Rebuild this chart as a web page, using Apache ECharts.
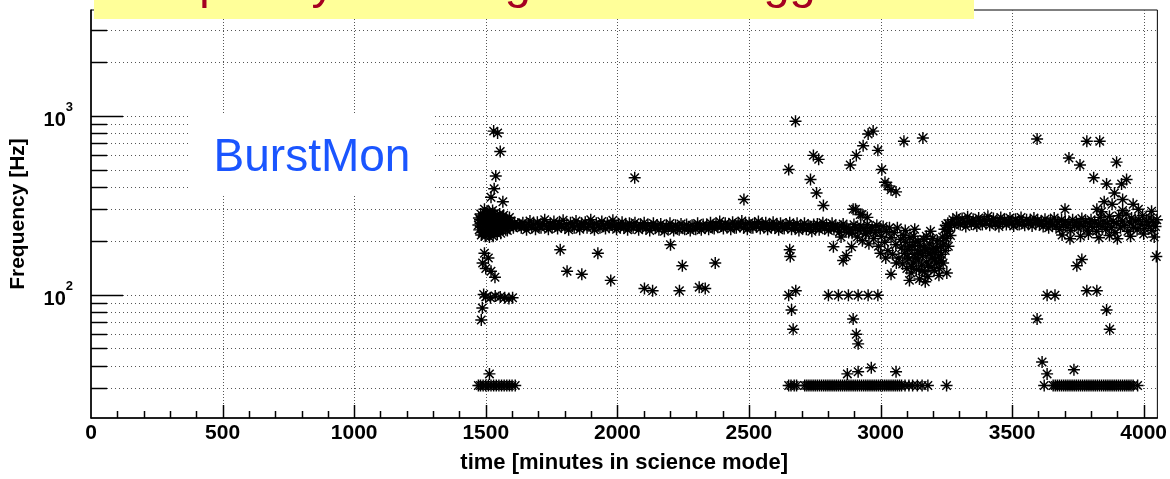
<!DOCTYPE html>
<html><head><meta charset="utf-8">
<script src="https://cdn.jsdelivr.net/npm/echarts@6/dist/echarts.min.js"></script>
<style>html,body{margin:0;padding:0;background:#fff}#c{width:1170px;height:479px}</style>
</head><body><div id="c"></div>
<script>
// ---------- tick definitions ----------
const yMajorTicks = [100, 1000];
const yMinorTicks = [30, 40, 50, 60, 70, 80, 90, 200, 300, 400, 500, 600, 700, 800, 900, 2000, 3000];
const xMajorTicks = [500, 1000, 1500, 2000, 2500, 3000, 3500, 4000];
const xMinorTicks = [100, 200, 300, 400, 600, 700, 800, 900, 1100, 1200, 1300, 1400, 1600, 1700, 1800, 1900,
  2100, 2200, 2300, 2400, 2600, 2700, 2800, 2900, 3100, 3200, 3300, 3400, 3600, 3700, 3800, 3900];

// ---------- data: [time (minutes), frequency (Hz)] ----------
const band1500 = [[1472,245],[1475,230],[1478,262],[1480,250],[1483,215],[1486,238],[1488,275],[1490,255],[1492,228],[1495,300],
  [1497,240],[1499,265],[1502,222],[1504,248],[1507,285],[1509,236],[1511,258],[1514,210],[1516,270],[1519,244],[1521,232],
  [1524,262],[1526,295],[1529,240],[1531,226],[1534,252],[1536,270],[1539,238],[1541,246],[1544,218],[1547,258],[1549,242],
  [1552,264],[1555,234],[1558,250],[1561,240],[1564,272],[1567,236],[1570,255],[1573,245],[1576,230],[1580,262],[1584,244],
  [1588,252],[1592,238],[1596,258],[1600,246],[1605,236],[1610,250],[1616,242],[1622,248],
  [1474,268],[1481,282],[1487,222],[1493,262],[1498,212],[1503,276],[1508,228],[1513,290],[1518,222],[1523,280],[1528,212],
  [1533,284],[1538,226],[1543,276],[1548,232],[1553,282],[1557,220],[1562,258],[1568,278],[1574,260],[1582,228],[1590,270]];

const bandMain = [[1628,244],[1635,236],[1641,252],[1648,240],[1655,230],[1662,248],[1668,258],[1675,238],[1682,246],[1689,232],
  [1696,254],[1703,242],[1710,236],[1717,250],[1724,262],[1731,240],[1738,232],[1745,248],[1752,238],[1759,256],[1766,244],
  [1773,234],[1780,250],[1787,240],[1794,260],[1801,236],[1808,246],[1815,230],[1822,252],[1829,242],[1836,236],[1843,258],
  [1850,244],[1857,232],[1864,250],[1871,240],[1878,254],[1885,236],[1892,246],[1899,262],[1906,238],[1913,230],[1920,250],
  [1927,242],[1934,236],[1941,256],[1948,244],[1955,234],[1962,250],[1969,238],[1976,246],[1983,260],[1990,240],[1997,232],
  [2004,248],[2011,238],[2018,254],[2025,236],[2032,244],[2039,230],[2046,250],[2053,240],[2060,236],[2067,252],[2074,242],
  [2081,230],[2088,246],[2095,238],[2102,252],[2109,234],[2116,244],[2123,228],[2130,240],[2137,250],[2144,236],[2151,244],
  [2158,230],[2165,248],[2172,238],[2179,226],[2186,242],[2193,234],[2200,250],[2207,238],[2214,228],[2221,244],[2228,236],
  [2235,230],[2242,248],[2249,238],[2256,232],[2263,246],[2270,236],[2277,228],[2284,244],[2291,240],[2298,232],[2305,250],
  [2312,238],[2319,230],[2326,246],[2333,236],[2340,244],[2347,232],[2354,252],[2361,240],[2368,234],[2375,248],[2382,238],
  [2389,256],[2396,242],[2403,234],[2410,250],[2417,240],[2424,246],[2431,232],[2438,254],[2445,242],[2452,236],[2459,250],
  [2466,240],[2473,258],[2480,236],[2487,246],[2494,232],[2501,252],[2508,242],[2515,236],[2522,250],[2529,240],[2536,256],
  [2543,234],[2550,246],[2557,240],[2564,252],[2571,232],[2578,244],[2585,238],[2592,254],[2599,236],[2606,246],[2613,230],
  [2620,250],[2627,240],[2634,234],[2641,248],[2648,238],[2655,252],[2662,232],[2669,244],[2676,236],[2683,250],[2690,228],
  [2697,242],[2704,236],[2711,250],[2718,232],[2725,244],[2732,238],[2739,226],[2746,246],[2753,236],[2760,248],[2767,230],
  [2774,240],[2781,252],[2788,234],[2795,244],[2802,228],[2809,240],[2816,250],[2823,232],[2830,242],[2837,236],[2844,224],
  [2851,240],[2858,248],[2865,230],[2872,238],[2879,222]];

const dipRegion = [[2884,232],[2892,220],[2899,246],[2906,238],[2912,210],[2918,228],[2925,242],[2931,200],[2937,234],[2943,218],
  [2950,246],[2956,192],[2962,228],[2968,238],[2974,206],[2980,222],[2986,244],[2992,186],[2998,230],[3004,212],[3010,240],
  [3016,196],[3022,226],[3028,176],[3034,236],[3040,208],[3046,168],[3052,222],[3058,190],[3064,236],[3070,160],[3076,204],
  [3080,182],[3084,148],[3088,214],[3092,170],[3096,196],[3100,140],[3104,178],[3108,158],[3112,208],[3116,132],[3120,186],
  [3124,150],[3128,168],[3132,196],[3136,138],[3140,176],[3144,156],[3148,122],[3152,188],[3156,146],[3160,166],[3164,204],
  [3168,134],[3172,178],[3176,152],[3180,126],[3184,170],[3188,192],[3192,142],[3196,160],[3200,182],[3204,136],[3208,172],
  [3212,150],[3216,200],[3220,162],[3224,140],[3228,186],[3232,168],[3236,210],[3238,150],[3240,192],[3243,232],[3246,176],
  [3248,244],[3250,206],[3252,132],[3254,226],[3256,250],[3258,186],[3262,238],[3266,214],
  [3094,228],[3102,162],[3110,186],[3118,144],[3126,212],[3134,160],[3142,198],[3150,170],[3158,136],[3166,182],[3174,212],
  [3182,146],[3190,170],[3198,206],[3206,156],[3214,180],[3222,128],[3230,154],[3110,120],[3170,118],[3130,232],[3190,226],
  [3060,150],[3040,130],[3020,160],[3000,170],[2905,300],[2930,280],[2950,270],[2890,185],[2870,165],[2850,210]];

const bandLate = [[3268,250],[3275,262],[3282,244],[3289,270],[3296,254],[3303,246],[3310,266],[3317,252],[3324,240],[3331,272],
  [3338,256],[3345,248],[3352,264],[3359,250],[3366,242],[3373,268],[3380,256],[3387,246],[3394,262],[3401,250],[3408,274],
  [3415,244],[3422,258],[3429,266],[3436,248],[3443,256],[3450,240],[3457,270],[3464,252],[3471,262],[3478,246],[3485,258],
  [3492,268],[3499,250],[3506,242],[3513,264],[3520,254],[3527,246],[3534,270],[3541,256],[3548,244],[3555,262],[3562,250],
  [3569,258],[3576,242],[3583,268],[3590,252],[3597,260],[3604,246],[3611,256],[3618,240],[3625,264],[3632,250],[3639,236],
  [3646,258],[3653,246],[3660,268],[3667,240],[3674,254],[3681,232],[3688,262],[3695,246],[3702,256],[3709,238],[3716,252],
  [3723,228],[3730,262],[3737,244],[3744,254],[3751,236],[3758,248],[3765,266],[3772,240],[3779,256],[3786,230],[3793,250],
  [3800,262],[3807,238],[3814,254],[3821,226],[3828,248],[3835,270],[3842,240],[3849,258],[3856,232],[3863,250],[3870,274],
  [3877,238],[3884,256],[3891,222],[3898,250],[3905,276],[3912,236],[3919,258],[3926,244],[3933,282],[3940,226],[3947,254],
  [3954,268],[3961,238],[3968,258],[3975,230],[3982,262],[3989,246],[3996,276],[4003,234],[4010,256],[4017,244],[4024,268],
  [4031,228],[4038,252],[4045,240],[4050,262],
  [3690,215],[3720,205],[3760,212],[3790,218],[3830,208],[3870,214],[3900,205],[3950,212],[4000,218],[4040,210],
  [3840,290],[3920,295],[3980,300],[4030,292]];

const highPoints = [[1530,820],[1545,800],[1555,630],[1538,460],[1532,390],[1520,350],[1565,330],
  [2066,450],[2481,340],[2677,930],[2651,500],[2745,600],[2765,570],[2734,440],[2757,370],[2783,315],
  [2885,530],[2908,600],[2934,680],[2953,790],[2972,820],[2990,640],[3017,425],[3040,385],[3059,375],[3089,720],
  [3161,750],[3005,500],[3028,405],[2896,300],[2923,280],
  [3595,740],[3716,580],[3758,530],[3784,720],[3833,720],[3810,450],[3859,415],[3897,550],[3916,415],[3935,440],
  [3889,370],[3822,300],[3701,300],[3850,330],[3880,320],[3920,340],[3960,320]];

const lowPoints = [[1495,170],[1488,150],[1500,140],[1510,160],[1520,135],[1535,125],[1500,97],[1518,96],[1536,98],
  [1555,97],[1572,96],[1588,95],[1602,96],[1483,72],[1487,84],[1492,100],
  [1809,135],[1865,130],[1926,170],[1975,120],[2103,108],[2134,105],[2202,190],[2236,105],[2247,145],[2311,110],
  [2334,108],[2372,150],[1783,178],
  [2655,178],[2657,163],[2651,99],[2662,82],[2668,64],[2678,105],[2821,185],[2858,155],
  [2802,99],[2840,99],[2878,99],[2915,99],[2953,99],[2990,99],[2896,73],[2908,60],[2915,53],[2945,220],
  [3595,73],[3633,99],[3663,99],[3746,145],[3765,157],[3784,105],[3822,105],[3859,82],[3871,64],[4048,163],
  [3614,42],[3633,36]];

const floorPoints = [[1472,31],[1480,31],[1490,31],[1500,31],[1510,31],[1520,31],[1530,31],[1540,31],[1550,31],[1560,31],
  [1570,31],[1580,31],[1590,31],[1600,31],[1612,31],[1514,36],
  [2651,31],[2660,31],[2672,31],[2681,31],[2712,31],[2720,31],[2728,31],[2736,31],[2744,31],[2752,31],[2760,31],[2768,31],
  [2776,31],[2784,31],[2792,31],[2800,31],[2808,31],[2816,31],[2824,31],[2832,31],[2840,31],[2848,31],[2856,31],[2864,31],
  [2872,31],[2880,31],[2888,31],[2896,31],[2904,31],[2912,31],[2920,31],[2928,31],[2936,31],[2944,31],[2952,31],[2960,31],
  [2968,31],[2976,31],[2984,31],[2992,31],[3000,31],[3008,31],[3016,31],[3024,31],[3032,31],[3040,31],[3048,31],[3056,31],
  [3064,31],[3072,31],[3080,31],[3093,31],[3108,31],[3122,31],[3140,31],[3158,31],[3180,31],[3251,31],
  [2874,36],[2915,37],[2965,39],[3059,37],
  [3622,31],[3656,31],[3664,31],[3672,31],[3680,31],[3688,31],[3696,31],[3704,31],[3712,31],[3720,31],[3728,31],[3736,31],
  [3744,31],[3752,31],[3760,31],[3768,31],[3776,31],[3784,31],[3792,31],[3800,31],[3808,31],[3816,31],[3824,31],[3832,31],
  [3840,31],[3848,31],[3856,31],[3864,31],[3872,31],[3880,31],[3888,31],[3896,31],[3904,31],[3912,31],[3920,31],[3928,31],
  [3936,31],[3944,31],[3952,31],[3960,31],[3977,31],[3735,38]];

// ---------- chart ----------
const FONT = "'Liberation Sans', Arial, Helvetica, sans-serif";
const STAR = 'path://M0 8.8L20 8.8L20 11.2L0 11.2Z M8.8 0L11.2 0L11.2 20L8.8 20Z ' +
  'M2.1 3.8L3.8 2.1L17.9 16.2L16.2 17.9Z M16.2 2.1L17.9 3.8L3.8 17.9L2.1 16.2Z';

const decor = [];
yMajorTicks.forEach(v => decor.push([0, v, 1]));
yMinorTicks.forEach(v => decor.push([0, v, 0]));
xMajorTicks.forEach(v => decor.push([v, 20.4, 3]));
xMinorTicks.forEach(v => decor.push([v, 20.4, 2]));

const allPoints = [].concat(band1500, bandMain, dipRegion, bandLate, highPoints, lowPoints, floorPoints);

const chart = echarts.init(document.getElementById('c'), null, {renderer: 'canvas'});
chart.setOption({
  animation: false,
  backgroundColor: '#fff',
  grid: {left: 88, right: 9, top: 10, bottom: 47, show: true, borderColor: '#000', borderWidth: 1, backgroundColor: 'transparent'},
  xAxis: {
    type: 'value', min: 0, max: 4052, interval: 500,
    axisLine: {show: true, lineStyle: {color: '#000', width: 1.5}},
    axisTick: {show: false}, splitLine: {show: false},
    axisLabel: {color: '#000', fontFamily: FONT, fontWeight: 'bold', fontSize: 21, margin: 5,
      formatter: v => (v % 500 === 0 ? String(v) : '')},
    name: 'time [minutes in science mode]', nameLocation: 'middle', nameGap: 34,
    nameTextStyle: {color: '#000', fontFamily: FONT, fontWeight: 'bold', fontSize: 22}
  },
  yAxis: {
    type: 'log', logBase: 10, min: 20.4, max: 3900,
    axisLine: {show: true, lineStyle: {color: '#000', width: 1.5}},
    axisTick: {show: false}, splitLine: {show: false}, minorTick: {show: false},
    axisLabel: {
      margin: 18,
      formatter: v => {
        const e = Math.round(Math.log10(v));
        if (Math.abs(Math.log10(v) - e) < 1e-6 && (e === 2 || e === 3)) return '{b|10}{s|' + e + '}';
        return '';
      },
      rich: {
        b: {fontFamily: FONT, fontWeight: 'bold', fontSize: 20, color: '#000', lineHeight: 30, verticalAlign: 'bottom'},
        s: {fontFamily: FONT, fontWeight: 'bold', fontSize: 13, color: '#000', lineHeight: 30, verticalAlign: 'top'}
      }
    },
    name: 'Frequency [Hz]', nameLocation: 'middle', nameRotate: 90, nameGap: 62,
    nameTextStyle: {color: '#000', fontFamily: FONT, fontWeight: 'bold', fontSize: 21}
  },
  graphic: [
    {type: 'rect', z: 100, shape: {x: 94, y: 0, width: 880, height: 19}, style: {fill: '#ffff99'}},
    {type: 'text', z: 101, style: {x: 113, y: 9, text: 'Frequency of strongest burst triggers', font: '47px ' + FONT,
      fill: '#a50021', textAlign: 'left', textVerticalAlign: 'bottom'}},
    {type: 'rect', z: 50, shape: {x: 189, y: 115, width: 245, height: 80}, style: {fill: '#fff'}},
    {type: 'text', z: 51, style: {x: 312, y: 158, text: 'BurstMon', font: '46px ' + FONT, fill: '#1a55ff',
      textAlign: 'center', textVerticalAlign: 'middle'}}
  ],
  series: [
    {
      type: 'custom', z: 1, clip: false, silent: true,
      data: decor,
      renderItem: (params, api) => {
        const cs = params.coordSys;
        const kind = api.value(2);
        const p = api.coord([api.value(0), api.value(1)]);
        const kids = [];
        if (kind <= 1) {
          const y = Math.round(p[1]) + 0.5;
          kids.push({type: 'line', shape: {x1: cs.x, y1: y, x2: cs.x + cs.width, y2: y},
            style: {stroke: '#555', lineWidth: 1, lineDash: [1, 3]}});
          kids.push({type: 'line', shape: {x1: cs.x, y1: y, x2: cs.x + (kind === 1 ? 32 : 16), y2: y},
            style: {stroke: '#000', lineWidth: 1.5}});
        } else {
          const x = Math.round(p[0]) + 0.5;
          const yb = cs.y + cs.height;
          if (kind === 3) {
            kids.push({type: 'line', shape: {x1: x, y1: cs.y, x2: x, y2: yb},
              style: {stroke: '#555', lineWidth: 1, lineDash: [1, 2]}});
          }
          kids.push({type: 'line', shape: {x1: x, y1: yb, x2: x, y2: yb - (kind === 3 ? 13 : 7)},
            style: {stroke: '#000', lineWidth: 1.5}});
        }
        return {type: 'group', children: kids};
      }
    },
    {
      type: 'scatter', z: 3, name: 'triggers',
      data: allPoints,
      symbol: STAR, symbolSize: 12,
      itemStyle: {color: '#000', opacity: 1},
      silent: true
    }
  ]
});
</script></body></html>
